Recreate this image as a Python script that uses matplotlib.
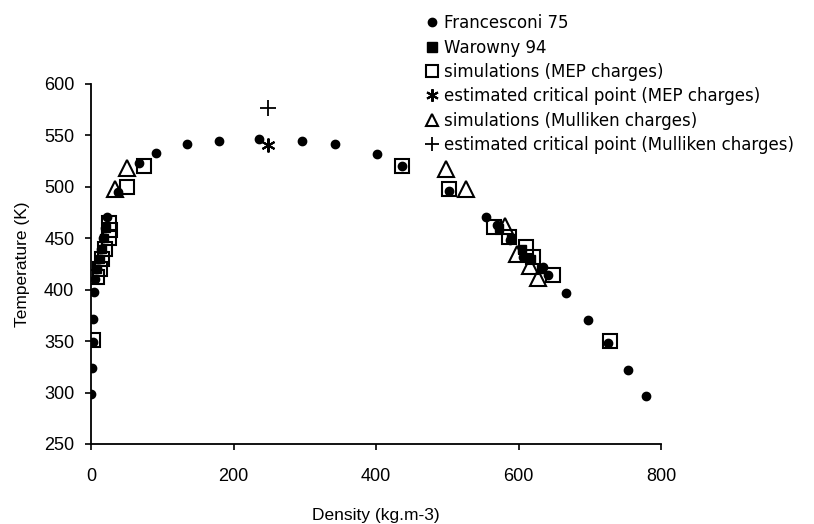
import matplotlib
matplotlib.use("Agg")
import matplotlib.pyplot as plt

plt.rcParams['font.family'] = ['Liberation Sans', 'DejaVu Sans']

# Francesconi 75 (filled circles)
fran_rho = [0, 2, 3, 3, 4, 6, 8, 11, 14, 17, 20, 22, 38, 68, 91, 135, 180, 236,
            296, 342, 401, 436, 503, 555, 570, 588, 607, 635, 642, 667, 698, 726, 754, 779]
fran_T = [299, 324, 349, 372, 398, 410, 420, 430, 440, 450, 460, 471, 495, 523, 533, 542, 545, 547,
          545, 542, 532, 520, 496, 471, 463, 448, 432, 422, 414, 397, 371, 348, 322, 297]

# Warowny 94 (filled squares)
war_rho = [9, 12, 15, 18, 21, 573, 590, 605, 618, 632]
war_T = [420, 430, 440, 450, 460, 460, 450, 440, 430, 420]

# simulations, MEP charges (open squares)
mep_rho = [3, 8, 12, 16, 20, 25, 26, 25, 50, 74, 436, 503, 566, 586, 611, 621, 649, 728]
mep_T = [351, 412, 420, 430, 440, 450, 458, 465, 500, 520, 520, 498, 461, 451, 442, 432, 414, 350]

# estimated critical point, MEP charges
mep_crit_rho = [249]
mep_crit_T = [541]

# simulations, Mulliken charges (open triangles)
mul_rho = [34, 51, 498, 527, 581, 598, 616, 628]
mul_T = [498, 518, 517, 498, 462, 435, 423, 411]

# estimated critical point, Mulliken charges
mul_crit_rho = [249]
mul_crit_T = [577]

labels = ["Francesconi 75", "Warowny 94", "simulations (MEP charges)",
          "estimated critical point (MEP charges)", "simulations (Mulliken charges)",
          "estimated critical point (Mulliken charges)"]

fig = plt.figure(figsize=(8.14, 5.24), dpi=100)
ax = fig.add_axes([91 / 814, 1 - 444 / 524, 570 / 814, 360 / 524])

ax.plot(mep_rho, mep_T, 's', ms=10, mfc='none', mec='black', mew=1.5, label=labels[2], zorder=3)
ax.plot(mul_rho, mul_T, '^', ms=12, mfc='none', mec='black', mew=1.5, label=labels[4], zorder=3)
ax.plot(war_rho, war_T, 's', ms=6, color='black', label=labels[1], zorder=4)
ax.plot(fran_rho, fran_T, 'o', ms=6, color='black', label=labels[0], zorder=5)
ax.plot(mep_crit_rho, mep_crit_T, marker=(6, 2, 0), ms=10, color='black', mew=1.5,
        ls='none', label=labels[3], zorder=5)
ax.plot(mul_crit_rho, mul_crit_T, '+', ms=12, color='black', mew=1.3, label=labels[5], zorder=5)

ax.set_xlim(0, 800)
ax.set_ylim(250, 600)
ax.set_xticks([0, 200, 400, 600, 800])
ax.set_yticks(range(250, 601, 50))
ax.spines['top'].set_visible(False)
ax.spines['right'].set_visible(False)
ax.spines['left'].set_linewidth(1.3)
ax.spines['bottom'].set_linewidth(1.3)
ax.tick_params(direction='out', length=4, width=1.2, labelsize=13)
ax.tick_params(axis='y', pad=8)
ax.tick_params(axis='x', pad=13)
ax.set_xlabel("Density (kg.m-3)", fontsize=12.5, labelpad=17)
ax.set_ylabel("Temperature (K)", fontsize=12.5, labelpad=10)

h, l = ax.get_legend_handles_labels()
order = [labels.index(x) for x in l]
pairs = sorted(zip(order, h, l))
leg = fig.legend([p[1] for p in pairs], [p[2] for p in pairs], loc='upper left',
                 bbox_to_anchor=(417 / 814, 1 - 6 / 524), frameon=False, borderpad=0,
                 handlelength=0.8, handletextpad=0.3, labelspacing=0.38,
                 prop={'family': 'DejaVu Sans', 'size': 12})
# legend symbols are a bit smaller than the plotted ones
for hd, ms in zip(leg.legend_handles, [6, 6.5, 8, 9, 9, 10]):
    hd.set_markersize(ms)

fig.savefig("out.png", dpi=100)
